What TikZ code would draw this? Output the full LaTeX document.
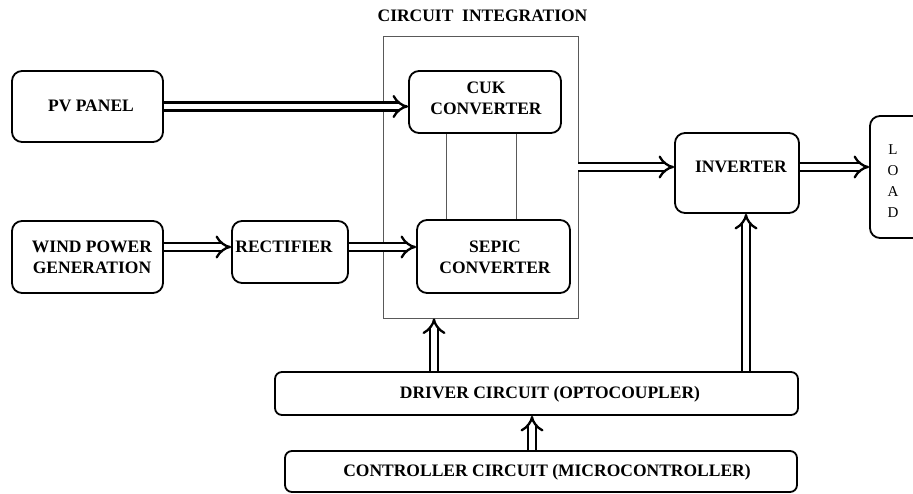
\documentclass[tikz,border=0pt]{standalone}
\usepackage{fontspec}
\setmainfont{Liberation Serif}
\usetikzlibrary{arrows.meta}
\begin{document}
\begin{tikzpicture}[x=1pt,y=-1pt,
 blk/.style={draw, line width=1.8pt, rounded corners=10pt, inner sep=0pt},
 wideblk/.style={draw, line width=1.8pt, rounded corners=7pt, inner sep=0pt},
 txt/.style={font=\fontsize{17.5}{21}\selectfont\bfseries, align=center, inner sep=0pt},
 loadtxt/.style={font=\fontsize{15}{21}\selectfont, align=center, inner sep=0pt},
 dbl/.style={double, double distance=5.5pt, line width=2.3pt, -{Implies}},
 thinline/.style={draw=gray!70!black, line width=0.9pt}]
\useasboundingbox (0,0) rectangle (913,494);
% boxes
\node[blk, minimum width=151pt, minimum height=71pt] (pv) at (87.5,106.5) {};
\node[blk, minimum width=151pt, minimum height=72pt] (wind) at (87.5,257) {};
\node[blk, minimum width=116pt, minimum height=62pt] (rect) at (290,252) {};
\node[thinline, minimum width=195pt, minimum height=282pt, inner sep=0pt] (integ) at (480.5,177) {};
\node[blk, minimum width=152pt, minimum height=62pt] (cuk) at (485,102) {};
\node[blk, minimum width=153pt, minimum height=73pt] (sepic) at (493.5,256.5) {};
\node[blk, minimum width=124pt, minimum height=80pt] (inv) at (737,173) {};
\node[blk, minimum width=55pt, minimum height=122pt] (load) at (897.5,177) {};
\node[wideblk, minimum width=523pt, minimum height=43pt] (driver) at (536.5,393.5) {};
\node[wideblk, minimum width=512pt, minimum height=41pt] (ctrl) at (541,471.5) {};
% texts
\node[txt] (title) at (482.5,16) {CIRCUIT\ \ INTEGRATION};
\node[txt] (pvtxt) at (91,106) {PV PANEL};
\node[txt] (windtxt) at (92,257.5) {WIND POWER\\GENERATION};
\node[txt] (rectxt) at (284,247) {RECTIFIER};
\node[txt] (cuktxt) at (486,98.5) {CUK\\CONVERTER};
\node[txt] (sepictxt) at (495,257.5) {SEPIC\\CONVERTER};
\node[txt] (invtxt) at (741,167) {INVERTER};
\node[loadtxt] (loadtxt) at (893,181.5) {L\\O\\A\\D};
\node[txt] (drvtxt) at (550,394) {DRIVER CIRCUIT (OPTOCOUPLER)};
\node[txt] (ctrltxt) at (547,472) {CONTROLLER CIRCUIT (MICROCONTROLLER)};
% helper coordinates
\coordinate (xa) at (746,0);
\coordinate (xb) at (434,0);
\coordinate (xc) at (532,0);
\coordinate (xl) at (446,0);
\coordinate (xr) at (516,0);
% connectors
\draw[dbl] (pv.east) -- (pv.east -| cuk.west);
\draw[dbl] (wind.east |- rectxt) -- (rect.west |- rectxt);
\draw[dbl] (rect.east |- rectxt) -- (sepic.west |- rectxt);
\draw[dbl] (integ.east |- invtxt) -- (inv.west |- invtxt);
\draw[dbl] (inv.east |- invtxt) -- (load.west |- invtxt);
\draw[dbl] (driver.north -| xa) -- (inv.south -| xa);
\draw[dbl] (driver.north -| xb) -- (integ.south -| xb);
\draw[dbl] (ctrl.north -| xc) -- (driver.south -| xc);
\draw[thinline] (cuk.south -| xl) -- (sepic.north -| xl);
\draw[thinline] (cuk.south -| xr) -- (sepic.north -| xr);
\end{tikzpicture}
\end{document}
